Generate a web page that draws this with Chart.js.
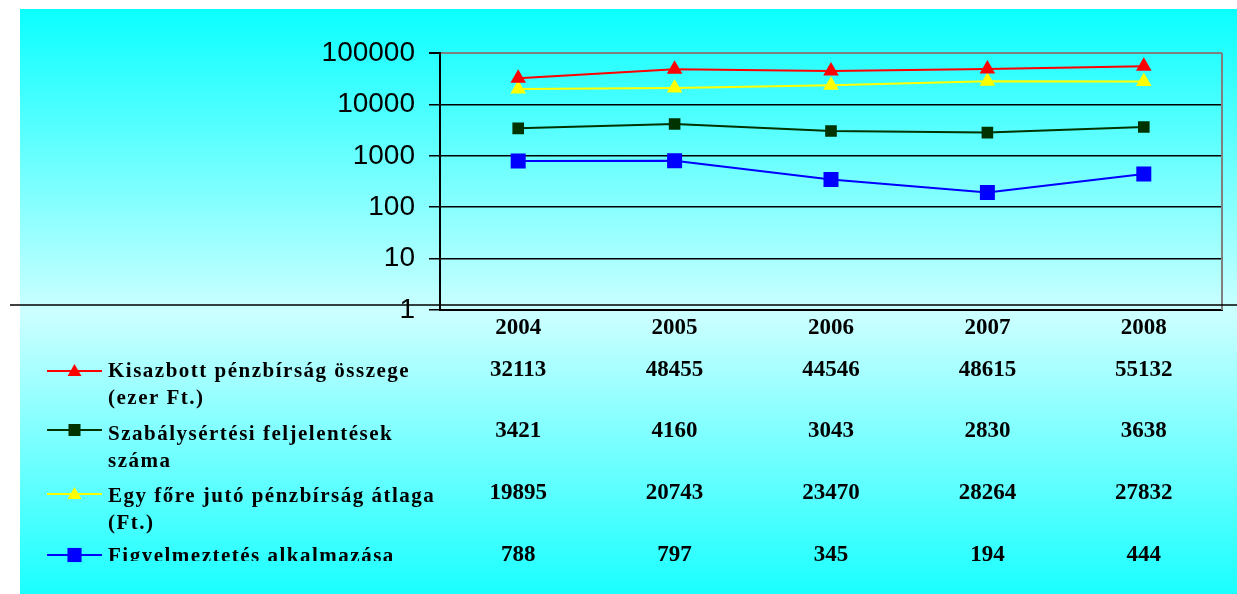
<!DOCTYPE html>
<html>
<head>
<meta charset="utf-8">
<script src="https://cdn.jsdelivr.net/npm/chart.js@4.4.0/dist/chart.umd.min.js"></script>
<style>
  html, body { margin: 0; padding: 0; background: #fff; }
  canvas { display: block; }
</style>
</head>
<body>
<canvas id="chart" width="1237" height="594"></canvas>
<script>
const years = ['2004', '2005', '2006', '2007', '2008'];
const yTicks = [1, 10, 100, 1000, 10000, 100000];

const fineTotal = [32113, 48455, 44546, 48615, 55132];
const reports = [3421, 4160, 3043, 2830, 3638];
const fineAverage = [19895, 20743, 23470, 28264, 27832];
const warnings = [788, 797, 345, 194, 444];

const seriesNames = [
  ['Kisazbott pénzbírság összege', '(ezer Ft.)'],
  ['Szabálysértési feljelentések', 'száma'],
  ['Egy főre jutó pénzbírság átlaga', '(Ft.)'],
  ['Figyelmeztetés alkalmazása']
];

// table row positions (baselines), legend marker sizes
const rowLayout = [
  { value: 376, line: 371, text: 377, radius: 8 },
  { value: 437, line: 430, text: 440, radius: 8.5 },
  { value: 499, line: 494, text: 502, radius: 8 },
  { value: 561, line: 555, text: 562, radius: 10 }
];

function drawMarker(ctx, style, r, x, y) {
  ctx.beginPath();
  if (style === 'triangle') {
    ctx.moveTo(x, y - r);
    ctx.lineTo(x + r * 0.866, y + r / 2);
    ctx.lineTo(x - r * 0.866, y + r / 2);
    ctx.closePath();
  } else {
    const s = r * Math.SQRT1_2;
    ctx.rect(x - s, y - s, 2 * s, 2 * s);
  }
  ctx.fill();
}

const background = {
  id: 'background',
  beforeDraw(chart) {
    const { ctx, width, height } = chart;
    ctx.save();
    ctx.fillStyle = '#ffffff';
    ctx.fillRect(0, 0, width, height);
    const g = ctx.createLinearGradient(0, 9, 0, height);
    g.addColorStop(0, '#0affff');
    g.addColorStop(0.52, '#ccffff');
    g.addColorStop(1, '#1affff');
    ctx.fillStyle = g;
    ctx.fillRect(20, 9, width - 20, height - 9);
    ctx.restore();
  }
};

const dataTable = {
  id: 'dataTable',
  afterDraw(chart) {
    const { ctx, chartArea } = chart;
    const xs = chart.scales.x;
    ctx.save();

    // gray right frame
    ctx.strokeStyle = '#808080';
    ctx.lineWidth = 2;
    ctx.beginPath();
    ctx.moveTo(chartArea.right, chartArea.top);
    ctx.lineTo(chartArea.right, chartArea.bottom);
    ctx.stroke();

    // rule across the panel
    ctx.strokeStyle = '#000';
    ctx.lineWidth = 1.5;
    ctx.beginPath();
    ctx.moveTo(10, 305);
    ctx.lineTo(chart.width, 305);
    ctx.stroke();

    chart.data.datasets.forEach((ds, i) => {
      const row = rowLayout[i];

      // legend key
      ctx.strokeStyle = ds.borderColor;
      ctx.lineWidth = 2;
      ctx.beginPath();
      ctx.moveTo(47, row.line);
      ctx.lineTo(102, row.line);
      ctx.stroke();
      ctx.fillStyle = ds.backgroundColor;
      const my = ds.pointStyle === 'triangle' ? row.line + 1 : row.line;
      drawMarker(ctx, ds.pointStyle, row.radius, 74.5, my);

      // legend text
      ctx.save();
      if (i === 3) {
        ctx.beginPath();
        ctx.rect(0, 0, chart.width, 561);
        ctx.clip();
      }
      ctx.fillStyle = '#000';
      ctx.font = 'bold 21px "Liberation Serif"';
      ctx.letterSpacing = '1.5px';
      ctx.textAlign = 'left';
      ctx.textBaseline = 'alphabetic';
      seriesNames[i].forEach((line, k) => {
        ctx.fillText(line, 108, row.text + k * 26.5);
      });
      ctx.restore();

      // values
      ctx.fillStyle = '#000';
      ctx.font = 'bold 23px "Liberation Serif"';
      ctx.textAlign = 'center';
      ctx.textBaseline = 'alphabetic';
      ds.data.forEach((v, j) => {
        ctx.fillText(String(v), xs.getPixelForValue(j), row.value);
      });
    });
    ctx.restore();
  }
};

new Chart(document.getElementById('chart'), {
  type: 'line',
  data: {
    labels: years,
    datasets: [
      { label: seriesNames[0].join(' '), data: fineTotal, borderColor: '#ff0000', backgroundColor: '#ff0000',
        pointStyle: 'triangle', pointRadius: 9, pointBorderWidth: 0, borderWidth: 2 },
      { label: seriesNames[1].join(' '), data: reports, borderColor: '#003300', backgroundColor: '#003300',
        pointStyle: 'rect', pointRadius: 8.2, pointBorderWidth: 0, borderWidth: 2 },
      { label: seriesNames[2].join(' '), data: fineAverage, borderColor: '#ffff00', backgroundColor: '#ffff00',
        pointStyle: 'triangle', pointRadius: 9, pointBorderWidth: 0, borderWidth: 2 },
      { label: seriesNames[3].join(' '), data: warnings, borderColor: '#0000ff', backgroundColor: '#0000ff',
        pointStyle: 'rect', pointRadius: 10.6, pointBorderWidth: 0, borderWidth: 2 }
    ]
  },
  options: {
    responsive: false,
    animation: false,
    layout: { padding: { top: 53, right: 15, left: 0, bottom: 0 } },
    plugins: { legend: { display: false }, tooltip: { enabled: false } },
    elements: { line: { tension: 0 } },
    scales: {
      x: {
        offset: true,
        grid: { display: false, drawTicks: false },
        border: { color: '#000', width: 2 },
        ticks: {
          color: '#000',
          padding: 4,
          maxRotation: 0,
          autoSkip: false,
          font: { family: 'Liberation Serif', size: 23, weight: 'bold' }
        },
        afterFit(s) { s.height = 284; }
      },
      y: {
        type: 'logarithmic',
        min: 1,
        max: 100000,
        afterBuildTicks(s) { s.ticks = yTicks.map(v => ({ value: v })); },
        afterFit(s) { s.width = 440; },
        grid: {
          color: c => (c.tick && c.tick.value === 100000 ? '#808080' : '#000'),
          lineWidth: c => (c.tick && c.tick.value === 100000 ? 2 : 1.5),
          tickColor: '#000',
          tickLength: 11
        },
        border: { color: '#000', width: 2 },
        ticks: {
          color: '#000',
          padding: 14,
          font: { family: 'Liberation Sans', size: 28 },
          callback: v => String(v)
        }
      }
    }
  },
  plugins: [background, dataTable]
});
</script>
</body>
</html>
